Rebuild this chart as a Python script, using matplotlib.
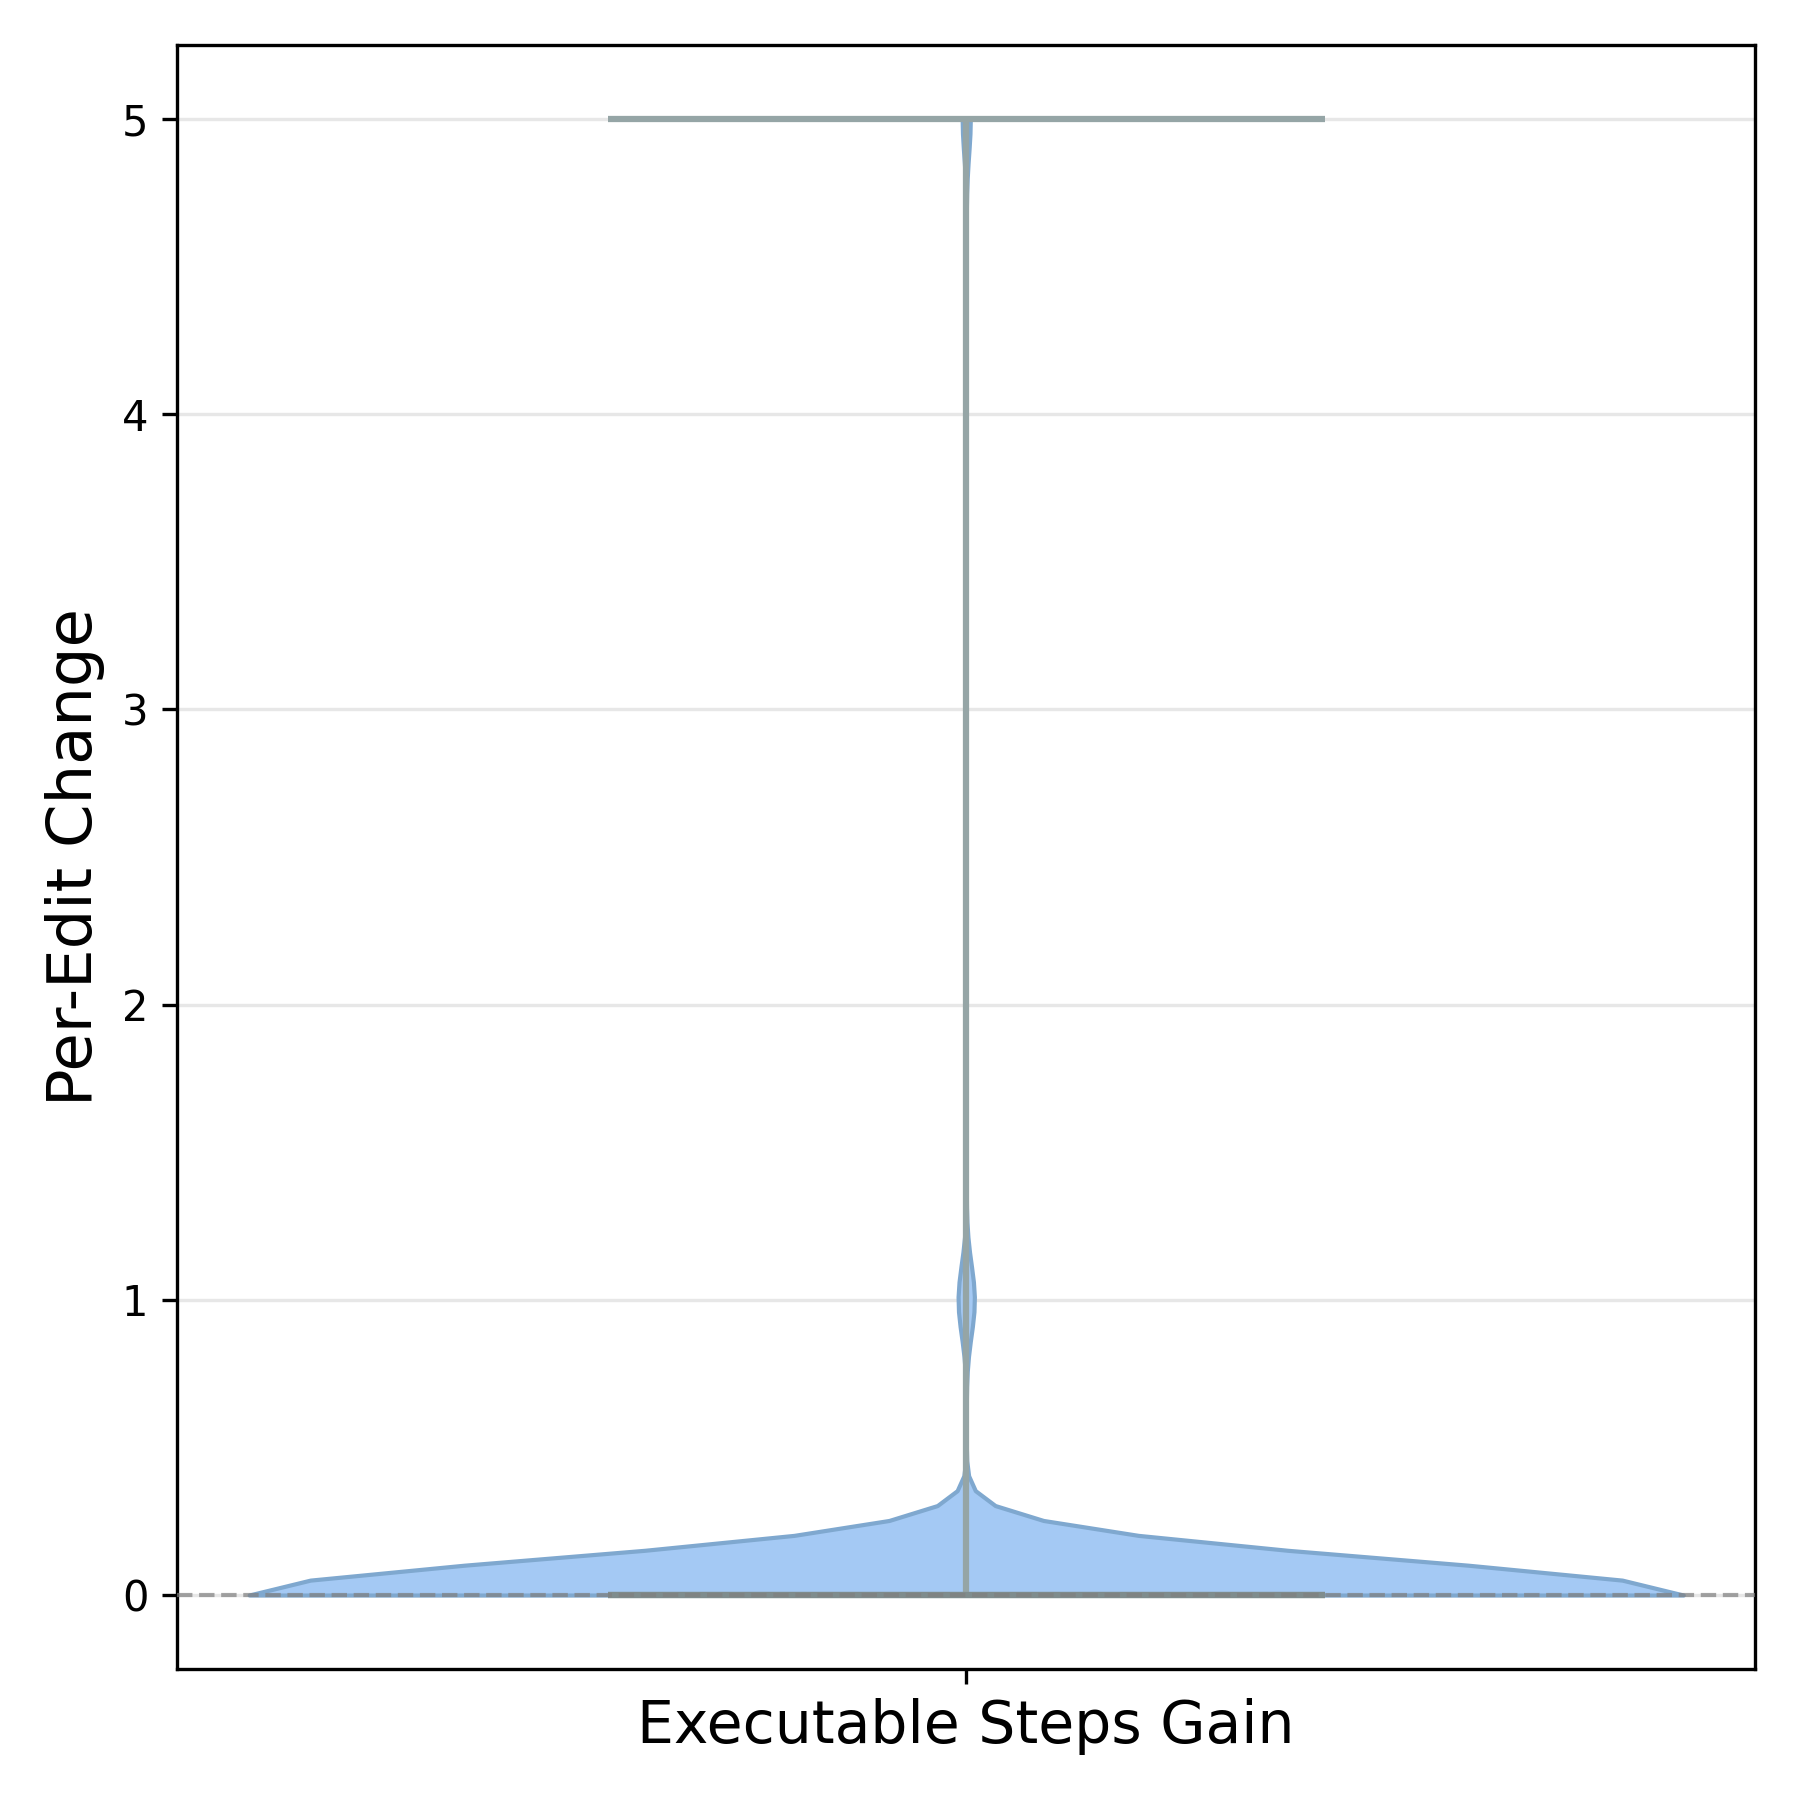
import numpy as np
import matplotlib
matplotlib.use('Agg')
import matplotlib.pyplot as plt

# valores observados e quantas vezes aparecem
valores = [0, 1, 5]
contagens = [351, 4, 2]
rotulo = 'Executable Steps Gain'

dados = np.repeat(valores, contagens).astype(float)

fig, ax = plt.subplots(figsize=(6, 6), dpi=300)

vp = ax.violinplot([dados], positions=[1], showextrema=True, showmedians=True)

for corpo in vp['bodies']:
    corpo.set_facecolor('#a4c9f4')
    corpo.set_edgecolor('#7fa8cf')
    corpo.set_linewidth(1)
    corpo.set_alpha(1)

for parte in ['cbars', 'cmins', 'cmaxes']:
    vp[parte].set_color('#95a5a6')
    vp[parte].set_linewidth(1.5)

# mediana (cai no zero)
vp['cmedians'].set_color('#7f8c8d')
vp['cmedians'].set_linewidth(1.5)

# linha de referencia no zero
ax.axhline(0, color='gray', linestyle='--', linewidth=1, alpha=0.7, zorder=3)

ax.set_xticks([1])
ax.set_xticklabels([rotulo], fontsize=14)
ax.set_ylabel('Per-Edit Change', fontsize=15)
ax.grid(axis='y', alpha=0.3)
ax.set_axisbelow(True)

plt.tight_layout()
plt.savefig('out.png', dpi=300)
